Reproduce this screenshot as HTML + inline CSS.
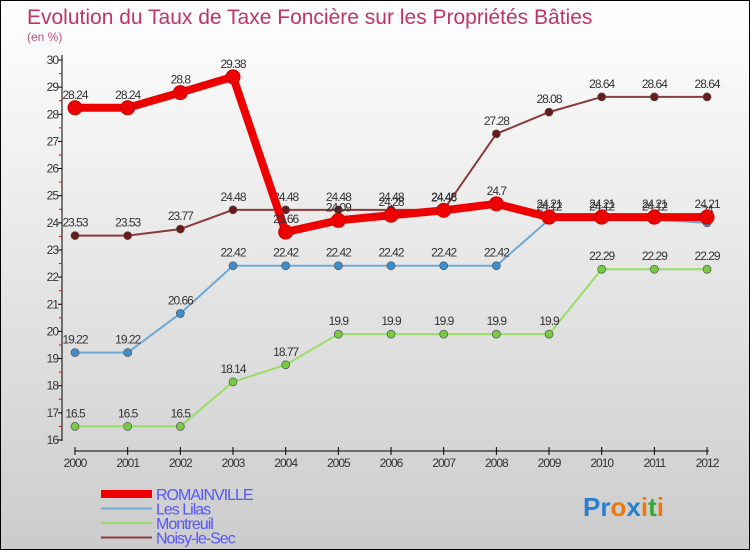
<!DOCTYPE html>
<html><head><meta charset="utf-8"><style>
body{margin:0}
#c{width:748px;height:548px;border:1px solid #000;background:linear-gradient(#fff,#ccc);position:relative;font-family:"Liberation Sans",sans-serif}
</style></head><body>
<div id="c">
<svg id="s" width="748" height="548">
<text x="26" y="23" font-size="21" fill="#c03366" font-weight="300">Evolution du Taux de Taxe Foncière sur les Propriétés Bâties</text>
<text x="26" y="40" font-size="12" fill="#c05080">(en %)</text>
</svg>
</div>
<script>
const years=[2000,2001,2002,2003,2004,2005,2006,2007,2008,2009,2010,2011,2012];
const yTicks=[16,17,18,19,20,21,22,23,24,25,26,27,28,29,30];
const romainville=[28.24,28.24,28.8,29.38,23.66,24.09,24.28,24.46,24.7,24.21,24.21,24.21,24.21];
const lilas=[19.22,19.22,20.66,22.42,22.42,22.42,22.42,22.42,22.42,24.12,24.12,24.12,24];
const montreuil=[16.5,16.5,16.5,18.14,18.77,19.9,19.9,19.9,19.9,19.9,22.29,22.29,22.29];
const noisy=[23.53,23.53,23.77,24.48,24.48,24.48,24.48,24.48,27.28,28.08,28.64,28.64,28.64];
const names=["ROMAINVILLE","Les Lilas","Montreuil","Noisy-le-Sec"];
const s=document.getElementById('s'),NS='http://www.w3.org/2000/svg';
const X=i=>74+i*52.67, Y=v=>59+(30-v)*27.14;
function mk(t,a,p){const e=document.createElementNS(NS,t);for(const k in a)e.setAttribute(k,a[k]);(p||s).appendChild(e);return e;}
let ya=mk('line',{x1:61,y1:54,x2:61,y2:440,stroke:'#000'});


yTicks.forEach(v=>{mk('line',{x1:57,y1:Y(v),x2:61,y2:Y(v),stroke:'#000'});
 if(v<30)mk('line',{x1:58,y1:Y(v+0.5),x2:61,y2:Y(v+0.5),stroke:'#e00'});
 const t=mk('text',{x:57,y:Y(v)+4,'font-size':12,'text-anchor':'end',fill:'#333','letter-spacing':'-1'});t.textContent=v;
 
 });
let xa=mk('line',{x1:74,y1:450,x2:708,y2:450,stroke:'#000'});


years.forEach((y,i)=>{mk('line',{x1:X(i),y1:446,x2:X(i),y2:454,stroke:'#000'});
 const t=mk('text',{x:X(i),y:466,'font-size':12,'text-anchor':'middle',fill:'#333','letter-spacing':'-1'});t.textContent=y;
 
 });
const series=[[montreuil,'#99dd66','#77cc44',2,4],[lilas,'#6fa8d6','#3b8ed0',2,4],[noisy,'#8b3a3a','#6a1a1a',2,4],[romainville,'#ee0000','#ee0000',8,7]];
series.forEach(([d,c,f,w,r],k)=>{
 const g=mk('g',{});
 
 
 mk('polyline',{points:d.map((v,i)=>X(i)+','+Y(v)).join(' '),fill:'none',stroke:c,'stroke-width':w,'stroke-linejoin':'round'},g);
 d.forEach((v,i)=>{const p=mk('circle',{cx:X(i),cy:Y(v),r:r,fill:f,stroke:w>2?'#cc0000':'#555','stroke-width':w>2?1:0.7},g);
  
  
  const t=mk('text',{x:X(i),y:Y(v)-9,'font-size':12,'text-anchor':'middle',fill:'#333','letter-spacing':'-1'},g);t.textContent=v;
  
  });
});
const lc=['#ee0000','#6fa8d6','#99dd66','#8b3a3a'],lw=[8,2,2,2];
names.forEach((n,i)=>{const y=493+i*14.5;
 const g=mk('g',{});
 
 
 mk('line',{x1:100,y1:y,x2:151,y2:y,stroke:lc[i],'stroke-width':lw[i]},g);
 const t=mk('text',{x:155,y:y+6,'font-size':16,fill:'#5555ff','letter-spacing':'-1'},g);t.textContent=n;});
const lg=mk('text',{x:582,y:515,'font-size':26,'font-weight':'bold'});


[['Pr','#2b7fd0'],['o','#ee7711'],['x','#2b7fd0'],['i','#ee7711'],['t','#33aa33'],['i','#ee7711']].forEach(([a,c])=>{const sp=mk('tspan',{fill:c},lg);sp.textContent=a;});
</script>
</body></html>
